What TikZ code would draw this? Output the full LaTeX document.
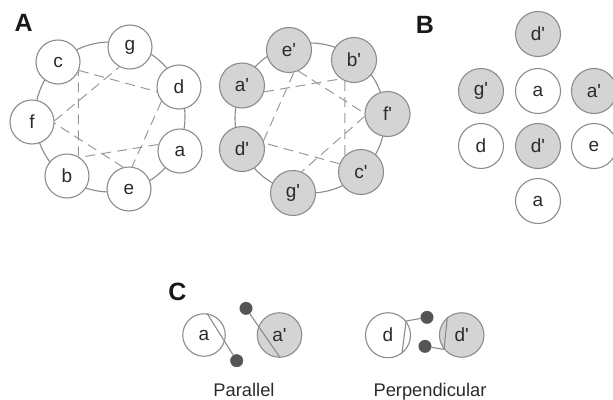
\documentclass[tikz,border=0pt]{standalone}
\usepackage{fontspec}
\newfontfamily\lab{Liberation Sans}
\definecolor{cgray}{HTML}{8C8C8C}
\definecolor{pfill}{HTML}{D4D4D4}
\definecolor{dgray}{HTML}{9A9A9A}
\definecolor{dotc}{HTML}{555555}
\definecolor{txt}{HTML}{2B2B2B}
\begin{document}
\begin{tikzpicture}[x=1pt,y=-1pt,
  res/.style={circle, draw=cgray, line width=1.1pt, fill=white, minimum size=#1,
    inner sep=0pt, font=\lab\fontsize{19}{19}\selectfont, text=txt},
  res/.default=44pt,
  resp/.style={res=#1, fill=pfill},
  resp/.default=45pt,
  ring/.style={draw=cgray, line width=1.1pt},
  wheel/.style={draw=dgray, line width=1pt, dash pattern=on 10pt off 6pt},
  rod/.style={draw=cgray, line width=1.1pt},
  ball/.style={circle, fill=dotc, draw=dotc, minimum size=12.5pt, inner sep=0pt},
  panel/.style={font=\lab\bfseries\fontsize{25}{25}\selectfont, text=black!90},
  caption/.style={font=\lab\fontsize{18.3}{20}\selectfont, text=txt, anchor=base}
]
\useasboundingbox (0,0) rectangle (613,399);

% panel labels
\node[panel] (lA) at (23.7,23) {A};
\node[panel] (lB) at (425,24.5) {B};
\node[panel] (lC) at (177.5,291.5) {C};

% ---- helical wheel, unprimed heptad ----
\draw[ring] (110,117) circle[radius=75pt];
\node[res] (g) at (130,47) {g};
\node[res] (d) at (179,87) {d};
\node[res] (a) at (180,151) {a};
\node[res] (e) at (129,189) {e};
\node[res] (b) at (67,176) {b};
\node[res] (f) at (32,122) {f};
\node[res] (c) at (58,62) {c};
\draw[wheel] (a.163) -- (b.56);
\draw[wheel] (b.60) -- (c.-25);
\draw[wheel] (c.-22) -- (d.192);
\draw[wheel] (d.219) -- (e.82);
\draw[wheel] (e.105) -- (f.-3);
\draw[wheel] (f.3) -- (g.242);

% ---- helical wheel, primed heptad ----
\draw[ring] (310,118) circle[radius=75pt];
\node[resp] (ep) at (289,50) {e'};
\node[resp] (bp) at (354,60) {b'};
\node[resp] (fp) at (387.5,114) {f'};
\node[resp] (cp) at (361,172) {c'};
\node[resp] (gp) at (293,193) {g'};
\node[resp] (dp) at (242,149) {d'};
\node[resp] (ap) at (242,85.5) {a'};
\draw[wheel] (ap.-16) -- (bp.235);
\draw[wheel] (bp.247) -- (cp.134);
\draw[wheel] (cp.159) -- (dp.15);
\draw[wheel] (dp.21) -- (ep.282);
\draw[wheel] (ep.-66) -- (fp.178);
\draw[wheel] (fp.186) -- (gp.68);

% ---- packing layer ----
\node[resp] (bd1) at (538,34) {d'};
\node[resp] (bg) at (481,91) {g'};
\node[res=45pt] (ba1) at (538,91) {a};
\node[resp] (bap) at (594,91) {a'};
\node[res=45pt] (bd) at (481,146) {d};
\node[resp] (bd2) at (538,146) {d'};
\node[res=45pt] (be) at (594,146) {e};
\node[res=45pt] (ba2) at (538,201) {a};

% ---- parallel orientation ----
\node[res=42.5pt] (pa) at (204,335) {a};
\node[resp=44.5pt] (pap) at (279.5,335) {a'};
\node[ball] (pt) at (246,308.3) {};
\node[ball] (pb) at (236.7,360.7) {};
\draw[rod] (pa.82) -- (pb);
\draw[rod] (pt) -- (pap.-88);
\node[caption] (cpar) at (244,396) {Parallel};

% ---- perpendicular orientation ----
\node[res=45pt] (qd) at (388,335.2) {d};
\node[resp=44.5pt] (qdp) at (461.7,335) {d'};
\node[ball] (qt) at (427,317.3) {};
\node[ball] (qb) at (425,346.3) {};
\draw[rod] (qd.38) -- (qd.-53);
\draw[rod] (qd.38) -- (qt);
\draw[rod] (qdp.129) -- (qdp.219);
\draw[rod] (qb) -- (qdp.219);
\node[caption] (cperp) at (430,396) {Perpendicular};
\end{tikzpicture}
\end{document}
